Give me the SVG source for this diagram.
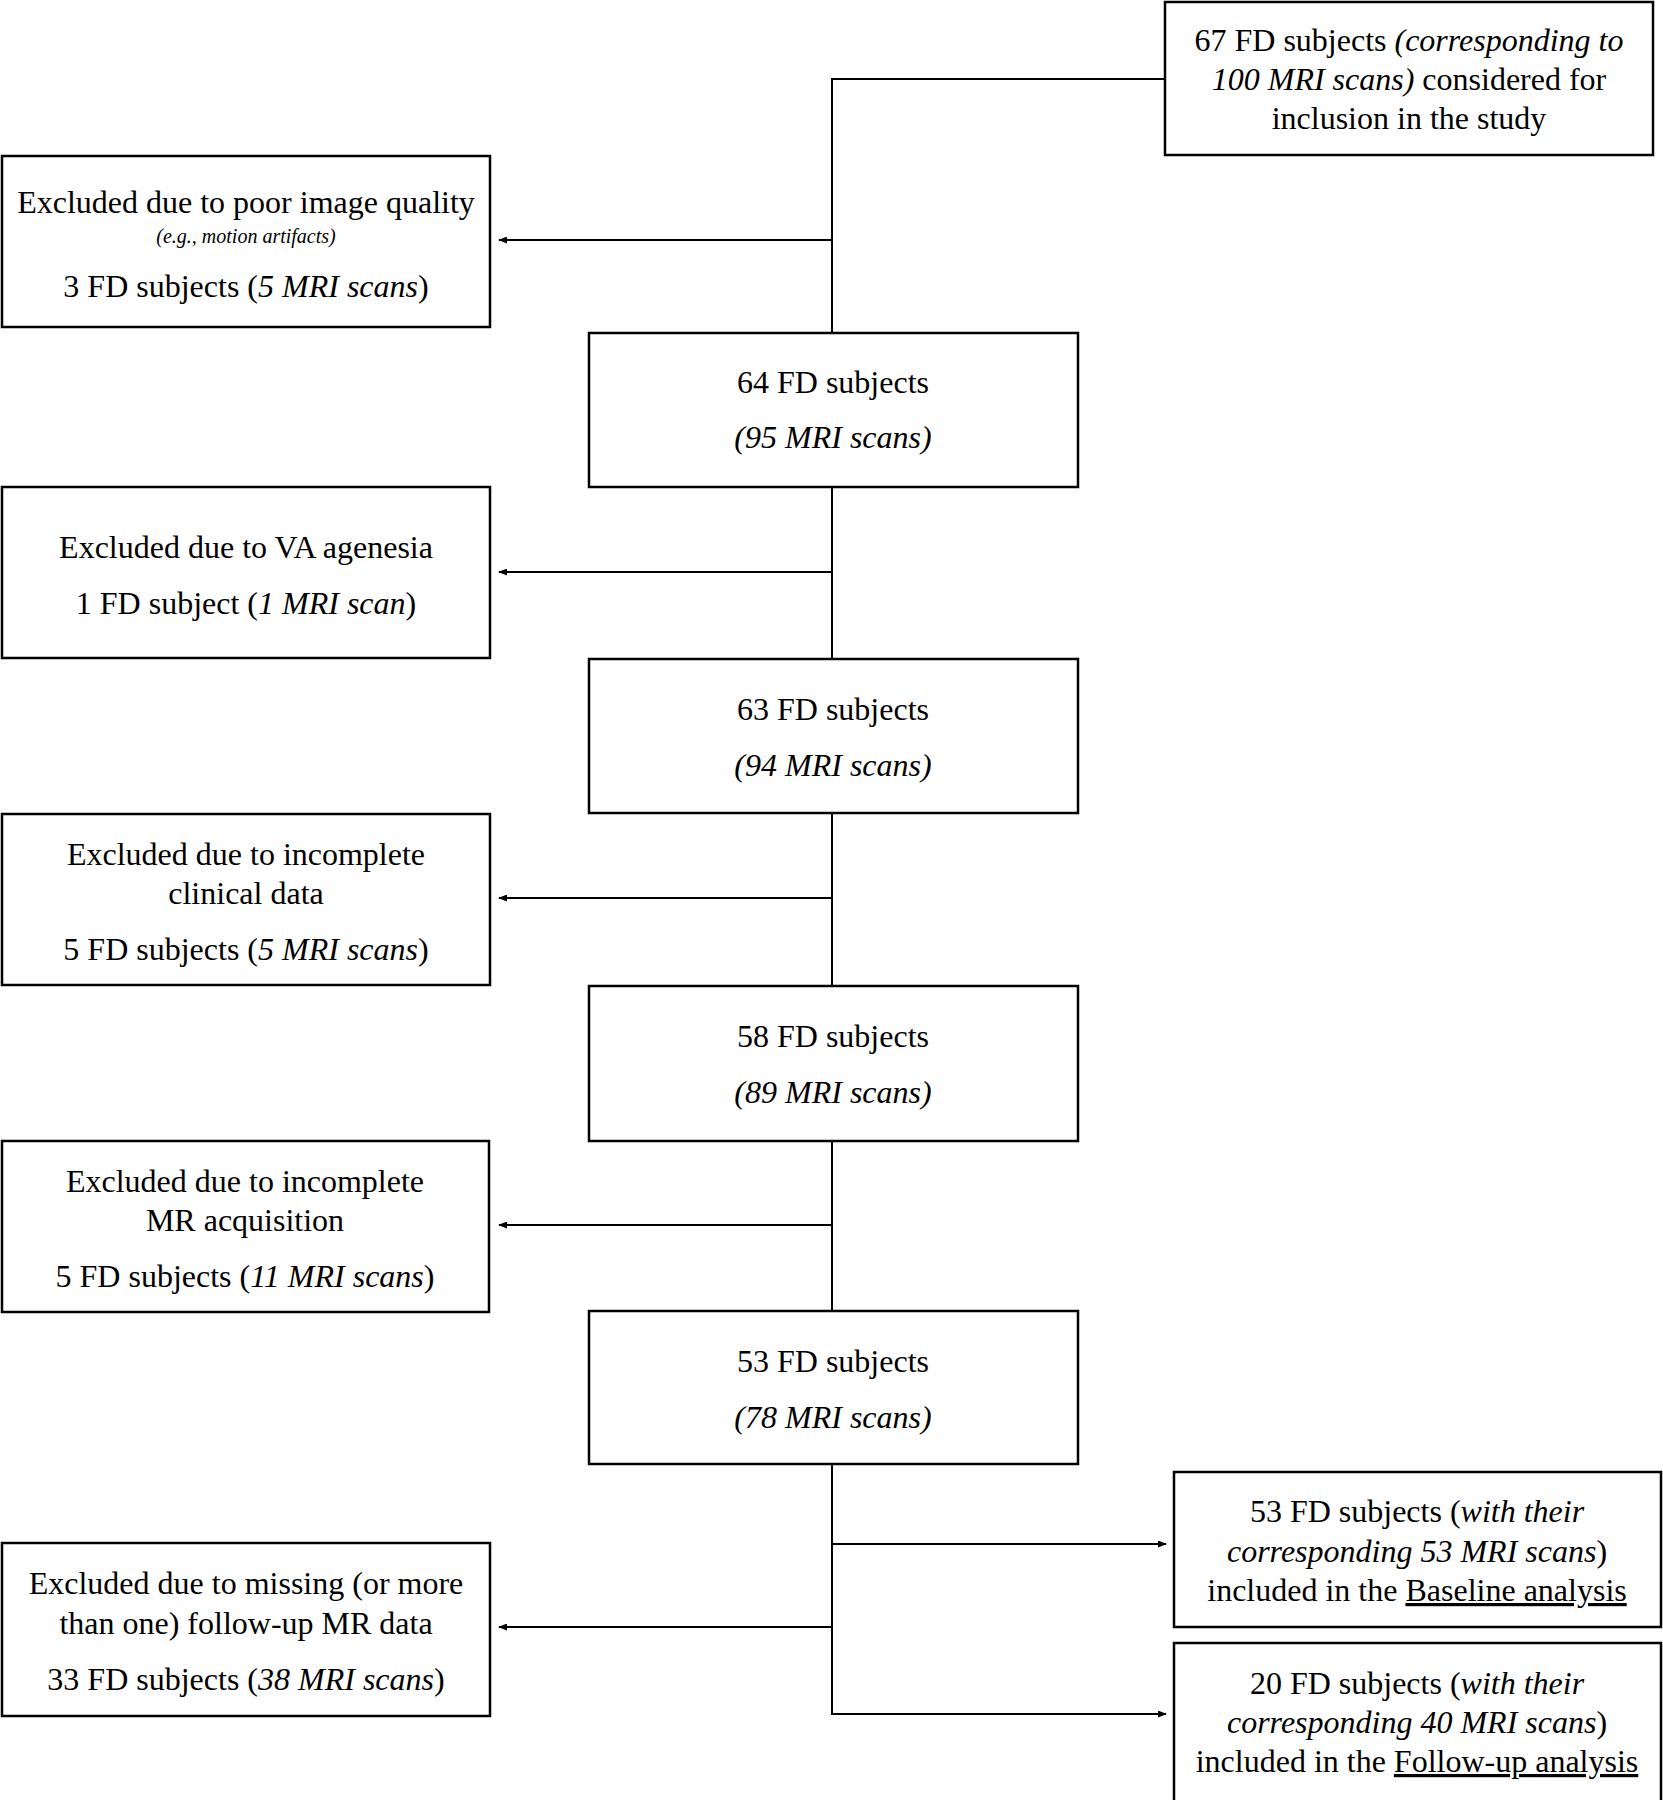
<svg xmlns="http://www.w3.org/2000/svg" width="1663" height="1800" viewBox="0 0 1663 1800">
<style>
.box{fill:#fff;stroke:#000;stroke-width:2.5}
.t{font-family:"Liberation Serif","Times New Roman",serif;font-size:32px;fill:#000;text-anchor:middle}
.i{font-style:italic}
.s{font-size:20px}
.u{text-decoration:underline}
.ln{fill:none;stroke:#000;stroke-width:2}
</style>
<defs>
<marker id="ah" viewBox="0 0 10 10" refX="9" refY="5" markerWidth="9" markerHeight="7" orient="auto" markerUnits="userSpaceOnUse" preserveAspectRatio="none">
<path d="M0,0 L10,5 L0,10 z" fill="#000"/>
</marker>
</defs>
<rect width="1663" height="1800" fill="#fff"/>
<g id="connectors">
<polyline class="ln" points="1165,79 832,79 832,333"/>
<line class="ln" x1="832" y1="487" x2="832" y2="659"/>
<line class="ln" x1="832" y1="813" x2="832" y2="986"/>
<line class="ln" x1="832" y1="1141" x2="832" y2="1311"/>
<polyline class="ln" points="832,1464 832,1714 1166,1714" marker-end="url(#ah)"/>
<line class="ln" x1="832" y1="240" x2="499" y2="240" marker-end="url(#ah)"/>
<line class="ln" x1="832" y1="572" x2="499" y2="572" marker-end="url(#ah)"/>
<line class="ln" x1="832" y1="898" x2="499" y2="898" marker-end="url(#ah)"/>
<line class="ln" x1="832" y1="1225" x2="499" y2="1225" marker-end="url(#ah)"/>
<line class="ln" x1="832" y1="1627" x2="499" y2="1627" marker-end="url(#ah)"/>
<line class="ln" x1="832" y1="1544" x2="1166" y2="1544" marker-end="url(#ah)"/>
</g>
<g id="n-start">
<rect class="box" x="1165" y="2" width="488" height="153"/>
<text class="t" x="1409" y="51">67 FD subjects <tspan class="i">(corresponding to</tspan></text>
<text class="t" x="1409" y="90"><tspan class="i">100 MRI scans)</tspan> considered for</text>
<text class="t" x="1409" y="129">inclusion in the study</text>
</g>
<g id="n-ex1">
<rect class="box" x="2" y="156" width="488" height="171"/>
<text class="t" x="246" y="213">Excluded due to poor image quality</text>
<text class="t i s" x="246" y="243">(e.g., motion artifacts)</text>
<text class="t" x="246" y="297">3 FD subjects (<tspan class="i">5 MRI scans</tspan>)</text>
</g>
<g id="n-64">
<rect class="box" x="589" y="333" width="489" height="154"/>
<text class="t" x="833" y="393">64 FD subjects</text>
<text class="t i" x="833" y="448">(95 MRI scans)</text>
</g>
<g id="n-ex2">
<rect class="box" x="2" y="487" width="488" height="171"/>
<text class="t" x="246" y="558">Excluded due to VA agenesia</text>
<text class="t" x="246" y="614">1 FD subject (<tspan class="i">1 MRI scan</tspan>)</text>
</g>
<g id="n-63">
<rect class="box" x="589" y="659" width="489" height="154"/>
<text class="t" x="833" y="720">63 FD subjects</text>
<text class="t i" x="833" y="776">(94 MRI scans)</text>
</g>
<g id="n-ex3">
<rect class="box" x="2" y="814" width="488" height="171"/>
<text class="t" x="246" y="865">Excluded due to incomplete</text>
<text class="t" x="246" y="904">clinical data</text>
<text class="t" x="246" y="960">5 FD subjects (<tspan class="i">5 MRI scans</tspan>)</text>
</g>
<g id="n-58">
<rect class="box" x="589" y="986" width="489" height="155"/>
<text class="t" x="833" y="1047">58 FD subjects</text>
<text class="t i" x="833" y="1103">(89 MRI scans)</text>
</g>
<g id="n-ex4">
<rect class="box" x="2" y="1141" width="487" height="171"/>
<text class="t" x="245" y="1192">Excluded due to incomplete</text>
<text class="t" x="245" y="1231">MR acquisition</text>
<text class="t" x="245" y="1287">5 FD subjects (<tspan class="i">11 MRI scans</tspan>)</text>
</g>
<g id="n-53">
<rect class="box" x="589" y="1311" width="489" height="153"/>
<text class="t" x="833" y="1372">53 FD subjects</text>
<text class="t i" x="833" y="1428">(78 MRI scans)</text>
</g>
<g id="n-ex5">
<rect class="box" x="2" y="1543" width="488" height="173"/>
<text class="t" x="246" y="1594">Excluded due to missing (or more</text>
<text class="t" x="246" y="1634">than one) follow-up MR data</text>
<text class="t" x="246" y="1690">33 FD subjects (<tspan class="i">38 MRI scans</tspan>)</text>
</g>
<g id="n-baseline">
<rect class="box" x="1174" y="1472" width="487" height="155"/>
<text class="t" x="1417" y="1522">53 FD subjects (<tspan class="i">with their</tspan></text>
<text class="t" x="1417" y="1562"><tspan class="i">corresponding 53 MRI scans</tspan>)</text>
<text class="t" x="1417" y="1601">included in the <tspan class="u">Baseline analysis</tspan></text>
</g>
<g id="n-followup">
<rect class="box" x="1174" y="1643" width="487" height="160"/>
<text class="t" x="1417" y="1694">20 FD subjects (<tspan class="i">with their</tspan></text>
<text class="t" x="1417" y="1733"><tspan class="i">corresponding 40 MRI scans</tspan>)</text>
<text class="t" x="1417" y="1772">included in the <tspan class="u">Follow-up analysis</tspan></text>
</g>
</svg>
